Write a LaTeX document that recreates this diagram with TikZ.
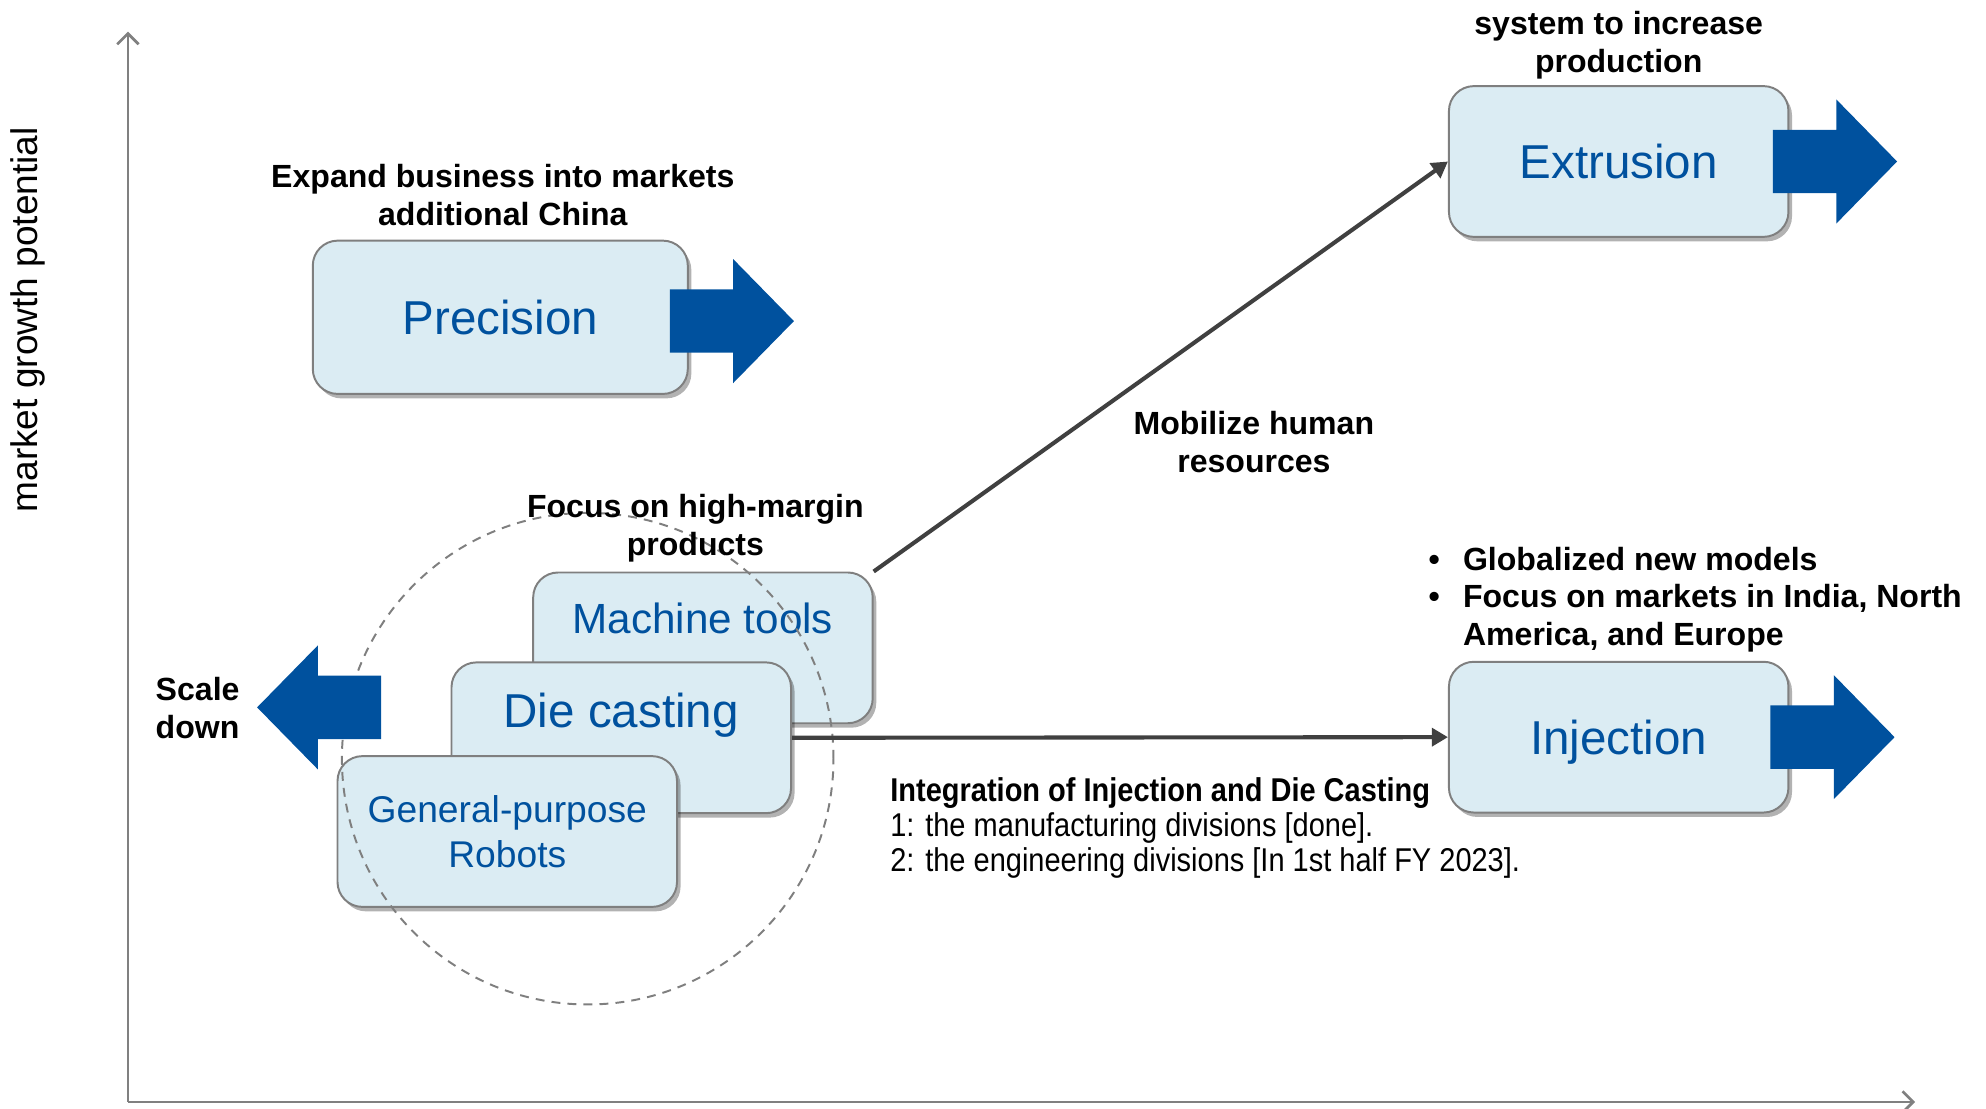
\documentclass[tikz,border=0pt]{standalone}
\usepackage{fontspec}
\setmainfont{Liberation Sans}
\newfontfamily\narrowfont[FakeStretch=0.88]{Liberation Sans}
\usepackage{tikz}
\usetikzlibrary{calc}
\usetikzlibrary{arrows.meta}
\usetikzlibrary{positioning,shapes,shadows}
\definecolor{boxfill}{RGB}{219,236,243}
\definecolor{boxline}{RGB}{127,127,127}
\definecolor{segblue}{RGB}{0,81,158}
\definecolor{linkgray}{RGB}{64,64,64}
\tikzset{
    segbox/.style={
        draw=boxline,
        line width=1.1pt,
        fill=boxfill,
        rounded corners=14pt,
        minimum width=6.7cm,
        minimum height=2.975cm,
        text=segblue,
        align=center,
        font=\fontsize{26.7}{30}\selectfont,
        drop shadow={shadow xshift=2pt, shadow yshift=-2.5pt, fill=black, opacity=0.3}
    },
    segtext/.style={text=segblue, align=center},
    note/.style={align=center, font=\bfseries\fontsize{18}{21.3}\selectfont},
    % dark grey connector between segments
    linkarrow/.style={
        line width=2.3pt,
        linkgray,
        -{Triangle[length=9pt, width=10pt]}
    },
    axisarrow/.style={
        line width=1.5pt,
        gray,
        -{Straight Barb[length=6pt, width=12pt]}
    },
    blockarrow/.pic={
        \fill[segblue] (0,-25) -- (50,-25) -- (50,-49) -- (98,0) -- (50,49) -- (50,25) -- (0,25) -- cycle;
    }
}
\begin{document}
\begin{tikzpicture}[x=0.025cm, y=-0.025cm]
    \useasboundingbox (0,0) rectangle (1568,875);
    % axes
    \coordinate (origin) at (101,870);
    \draw[axisarrow] (origin) -- (101,25);
    \draw[axisarrow] (origin) -- (1512,870);
    \node[rotate=90, font=\fontsize{20.8}{24}\selectfont] (ylab) at (22,252.5) {market growth potential};

    \node[segbox, minimum width=7.4cm, minimum height=3.025cm] (prec) at (395,250.5) {Precision};
    \node[segbox] (ext) at (1278,127.5) {Extrusion};
    \node[segbox, text depth=0pt] (inj) at (1278,582) {Injection};
    \pic at ($(prec.east)+(-15,3)$) {blockarrow};
    \pic at ($(ext.east)+(-13,0)$) {blockarrow};
    \pic at ($(inj.east)+(-15,0)$) {blockarrow};

    % stacked segments
    \node[segbox] (mt) at (555,511.5) {};
    \node[segtext, font=\fontsize{23.7}{28}\selectfont] (mtlabel) at (555,488) {Machine tools};
    \node[segbox] (dc) at (490.5,582.5) {};
    \node[segtext, font=\fontsize{26.7}{30}\selectfont] (dclabel) at (490.5,565) {Die casting};
    \node[segbox, font=\fontsize{20.9}{25.6}\selectfont] (gpr) at (400.5,656.5) {General-purpose\\Robots};
    \draw[boxline, line width=1.1pt, dash pattern=on 5pt off 4pt] (464,599) circle (4.85cm);
    \pic[rotate=180] at (301,558.5) {blockarrow};

    \draw[linkarrow] (mt.north east) -- (ext.west);
    \draw[linkarrow] (dc.east) -- (inj.west);

    \node[note] (expand) at (397,154) {Expand business into markets\\additional China};
    \node[note] (sysinc) at (1278,36) {system to increase\\production};
    \node[note] (mobil) at (990,349) {Mobilize human\\resources};
    \node[note] (focus) at (549,417) {Focus on high-margin\\products};
    \node[note, align=left, anchor=west] (scale) at (118,559) {Scale\\down};
    \node[note, align=left, anchor=west] (glob) at (1123,474) {%
        \begin{tabular}{@{}l@{\hspace{13pt}}l@{}}
        \textbullet & Globalized new models\\
        \textbullet & Focus on markets in India, North\\
                    & America, and Europe
        \end{tabular}};
    \node[align=left, anchor=west, font=\narrowfont\fontsize{18.5}{19.6}\selectfont] (integ) at (698,653.5) {%
        \textbf{Integration of Injection and Die Casting}\\
        1: the manufacturing divisions [done].\\
        2: the engineering divisions [In 1st half FY 2023].};
\end{tikzpicture}
\end{document}
